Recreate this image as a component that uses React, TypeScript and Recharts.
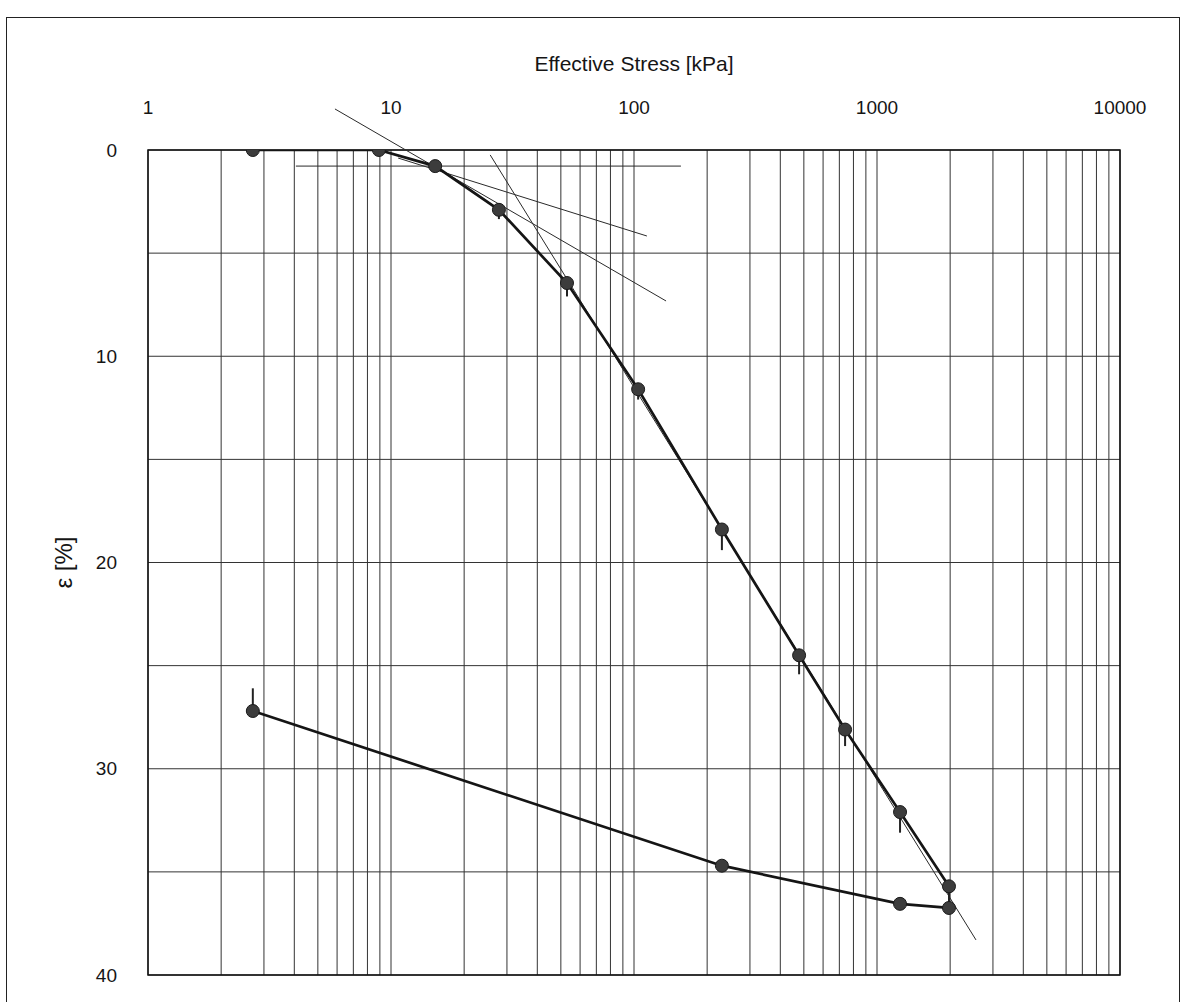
import React from 'react';
import {
  LineChart,
  Line,
  XAxis,
  YAxis,
  CartesianGrid,
  ReferenceLine,
  ReferenceArea,
  ErrorBar,
  Label,
} from 'recharts';

// Loading branch (effective stress kPa, strain %)
const loadStress = [2.7, 8.92, 15.2, 27.8, 53, 104, 230, 478, 739, 1244, 1978];
const loadStrain = [0, 0, 0.78, 2.9, 6.45, 11.6, 18.4, 24.5, 28.1, 32.1, 35.7];
// short vertical creep markers below each loading point (strain %)
const loadCreep = [0, 0, 0, 0.45, 0.65, 0.5, 1.0, 0.92, 0.8, 1.0, 1.05];

// Unloading branch
const unloadStress = [1978, 1244, 230, 2.7];
const unloadStrain = [36.75, 36.55, 34.7, 27.2];
// creep marker above the last unloading point
const unloadCreep = [0, 0, 0, 1.1];

// Casagrande construction lines
const horizontalLine = [
  { x: 4.06, y: 0.78 },
  { x: 156, y: 0.78 },
];
const tangentLine = [
  { x: 5.88, y: -1.99 },
  { x: 135.5, y: 7.32 },
];
const bisectorLine = [
  { x: 10.7, y: 0.39 },
  { x: 113, y: 4.17 },
];
const virginLine = [
  { x: 25.6, y: 0.24 },
  { x: 2555, y: 38.3 },
];

const xTicks = [
  1, 2, 3, 4, 5, 6, 7, 8, 9,
  10, 20, 30, 40, 50, 60, 70, 80, 90,
  100, 200, 300, 400, 500, 600, 700, 800, 900,
  1000, 2000, 3000, 4000, 5000, 6000, 7000, 8000, 9000,
  10000,
];
const xLabelTicks = [1, 10, 100, 1000, 10000];
const yTicks = [0, 5, 10, 15, 20, 25, 30, 35, 40];
const yLabelTicks = [0, 10, 20, 30, 40];

const loadData = loadStress.map((s, i) => ({
  stress: s,
  strain: loadStrain[i],
  creep: [0, loadCreep[i]],
}));
const unloadData = unloadStress.map((s, i) => ({
  stress: s,
  strain: unloadStrain[i],
  creep: [unloadCreep[i], 0],
}));

const FONT = '"Liberation Sans", Arial, sans-serif';
const INK = '#151515';
const GRID = '#333';

const dotStyle = { r: 6.5, fill: '#3c3c3c', stroke: '#1a1a1a', strokeWidth: 1, clipDot: true };

export default function App() {
  const constructions = [horizontalLine, tangentLine, bisectorLine, virginLine];
  return (
    <div
      style={{
        position: 'absolute',
        left: 0,
        top: 0,
        width: 1183,
        height: 1002,
        overflow: 'hidden',
        background: '#fff',
        fontFamily: FONT,
      }}
    >
      <div
        style={{
          position: 'absolute',
          left: 6,
          top: 17,
          width: 1174,
          height: 1000,
          border: '1.5px solid #222',
          boxSizing: 'border-box',
        }}
      />
      <div style={{ position: 'absolute', left: 0, top: 0 }}>
        <LineChart
          width={1183}
          height={1002}
          margin={{ top: 0, right: 63, bottom: 27, left: 0 }}
        >
          <CartesianGrid stroke={GRID} strokeWidth={1} />
          <XAxis
            dataKey="stress"
            type="number"
            scale="log"
            orientation="top"
            domain={[1, 10000]}
            allowDataOverflow
            ticks={xTicks}
            interval={0}
            tickFormatter={(v: number) => (xLabelTicks.includes(v) ? String(v) : '')}
            tickLine={false}
            axisLine={false}
            tickSize={0}
            tickMargin={36}
            height={150}
            tick={{ fill: INK, fontSize: 19, fontFamily: FONT }}
          >
            <Label
              value="Effective Stress [kPa]"
              position="insideTop"
              offset={56}
              style={{ fill: INK, fontSize: 21, fontFamily: FONT }}
            />
          </XAxis>
          <YAxis
            type="number"
            reversed
            domain={[0, 40]}
            allowDataOverflow
            ticks={yTicks}
            interval={0}
            tickFormatter={(v: number) => (yLabelTicks.includes(v) ? String(v) : '')}
            tickLine={false}
            axisLine={false}
            tickSize={0}
            tickMargin={31}
            width={148}
            tick={{ fill: INK, fontSize: 19, fontFamily: FONT }}
          >
            <Label
              value="ε [%]"
              angle={-90}
              position="insideLeft"
              offset={63}
              style={{ fill: INK, fontSize: 24, fontFamily: FONT, textAnchor: 'middle' }}
            />
          </YAxis>
          <ReferenceArea
            x1={1}
            x2={10000}
            y1={0}
            y2={40}
            fill="none"
            stroke="#111"
            strokeWidth={1.5}
            ifOverflow="visible"
          />
          {constructions.map((seg, i) => (
            <ReferenceLine
              key={i}
              segment={seg}
              stroke="#2a2a2a"
              strokeWidth={1}
              ifOverflow="visible"
            />
          ))}
          <Line
            data={loadData}
            dataKey="strain"
            type="linear"
            stroke={INK}
            strokeWidth={2.7}
            dot={dotStyle}
            activeDot={false}
            isAnimationActive={false}
          >
            <ErrorBar dataKey="creep" direction="y" width={0} stroke="#222" strokeWidth={2} />
          </Line>
          <Line
            data={unloadData}
            dataKey="strain"
            type="linear"
            stroke={INK}
            strokeWidth={2.7}
            dot={dotStyle}
            activeDot={false}
            isAnimationActive={false}
          >
            <ErrorBar dataKey="creep" direction="y" width={0} stroke="#222" strokeWidth={2} />
          </Line>
        </LineChart>
      </div>
    </div>
  );
}
